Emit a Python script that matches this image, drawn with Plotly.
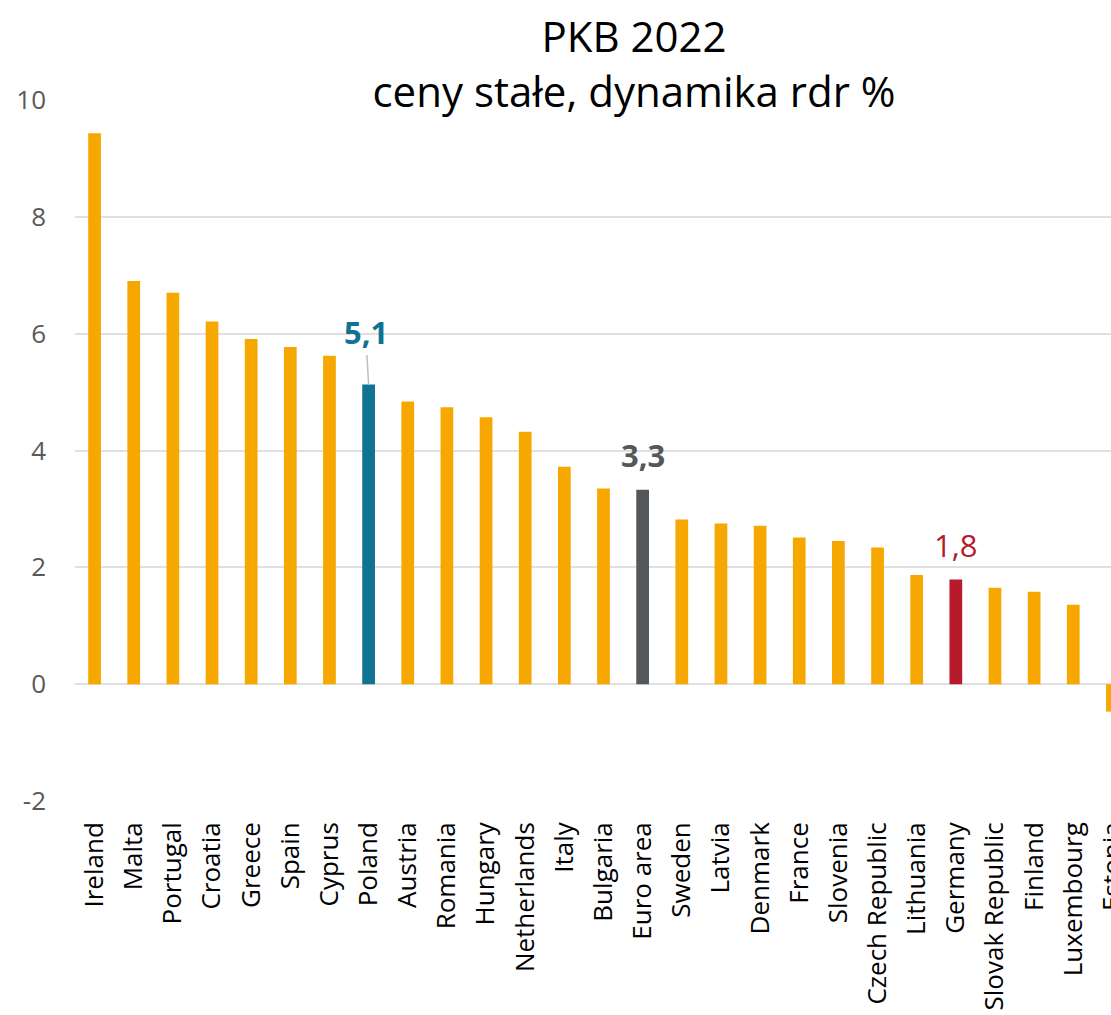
import plotly.graph_objects as go

# ---- data ----
categories = ["Ireland", "Malta", "Portugal", "Croatia", "Greece", "Spain", "Cyprus",
              "Poland", "Austria", "Romania", "Hungary", "Netherlands", "Italy",
              "Bulgaria", "Euro area", "Sweden", "Latvia", "Denmark", "France",
              "Slovenia", "Czech Republic", "Lithuania", "Germany", "Slovak Republic",
              "Finland", "Luxembourg", "Estonia"]
values = [9.43, 6.90, 6.70, 6.21, 5.91, 5.77, 5.62,
          5.13, 4.84, 4.74, 4.57, 4.32, 3.72,
          3.35, 3.33, 2.82, 2.75, 2.71, 2.51,
          2.45, 2.34, 1.87, 1.79, 1.65,
          1.58, 1.36, -0.47]
y_tick_vals = [-2, 0, 2, 4, 6, 8, 10]
y_tick_text = ["-2", "0", "2", "4", "6", "8", "10"]
highlight_labels = {"Poland": "5,1", "Euro area": "3,3", "Germany": "1,8"}

title_line1 = "PKB 2022"
title_line2 = "ceny stałe, dynamika rdr %"

# ---- styles ----
BASE = "#F6A800"
HL_COLORS = {"Poland": "#0F7391", "Euro area": "#54585B", "Germany": "#B71B2B"}
colors = [HL_COLORS.get(c, BASE) for c in categories]
FONT = "Open Sans"
GRID = "#E0E0E0"

fig = go.Figure(go.Bar(
    x=categories, y=values,
    marker=dict(color=colors, line=dict(width=0)),
    hoverinfo="x+y",
))

W, H = 1132, 1015
ML, MR, MT, MB = 75, 0, 100, 214

fig.update_layout(
    width=W, height=H,
    margin=dict(l=ML, r=MR, t=MT, b=MB, pad=0),
    paper_bgcolor="white", plot_bgcolor="white",
    bargap=0.675,
    showlegend=False,
    font=dict(family=FONT, color="#000000"),
    title=dict(
        text=title_line1 + "<br>" + title_line2,
        x=(634 - ML) / (W - ML - MR), xref="paper", xanchor="center",
        y=1 - 52 / H, yref="container", yanchor="top",
        font=dict(family=FONT, size=42, color="#000000"),
    ),
    xaxis=dict(
        range=[-0.5, len(categories) - 0.5],
        showgrid=False, zeroline=False, showline=False, ticks="",
        tickangle=-90, tickfont=dict(family=FONT, size=26, color="#000000"),
        ticklabelstandoff=15,
    ),
    yaxis=dict(
        range=[-2, 10], tickvals=y_tick_vals, ticktext=y_tick_text,
        showgrid=True, gridcolor=GRID, gridwidth=2,
        zeroline=True, zerolinecolor=GRID, zerolinewidth=2,
        showline=False, ticks="",
        tickfont=dict(family=FONT, size=26, color="#595959"),
        ticklabelstandoff=28,
    ),
)

# data labels for highlighted bars
idx = {c: i for i, c in enumerate(categories)}
fig.add_annotation(
    x="Poland", y=values[idx["Poland"]], text="<b>" + highlight_labels["Poland"] + "</b>",
    showarrow=True, arrowhead=0, arrowwidth=1.5, arrowcolor="#BFBFBF",
    ax=-3, ay=-52, standoff=0,
    font=dict(family=FONT, size=31, color=HL_COLORS["Poland"]),
)
fig.add_annotation(
    x="Euro area", y=values[idx["Euro area"]], text="<b>" + highlight_labels["Euro area"] + "</b>",
    showarrow=False, yanchor="bottom", yshift=12,
    font=dict(family=FONT, size=31, color=HL_COLORS["Euro area"]),
)
fig.add_annotation(
    x="Germany", y=values[idx["Germany"]], text=highlight_labels["Germany"],
    showarrow=False, yanchor="bottom", yshift=12,
    font=dict(family=FONT, size=31, color=HL_COLORS["Germany"]),
)

fig.write_html("out.html", config={"displayModeBar": False},
               post_script="document.body.style.margin='0';")
